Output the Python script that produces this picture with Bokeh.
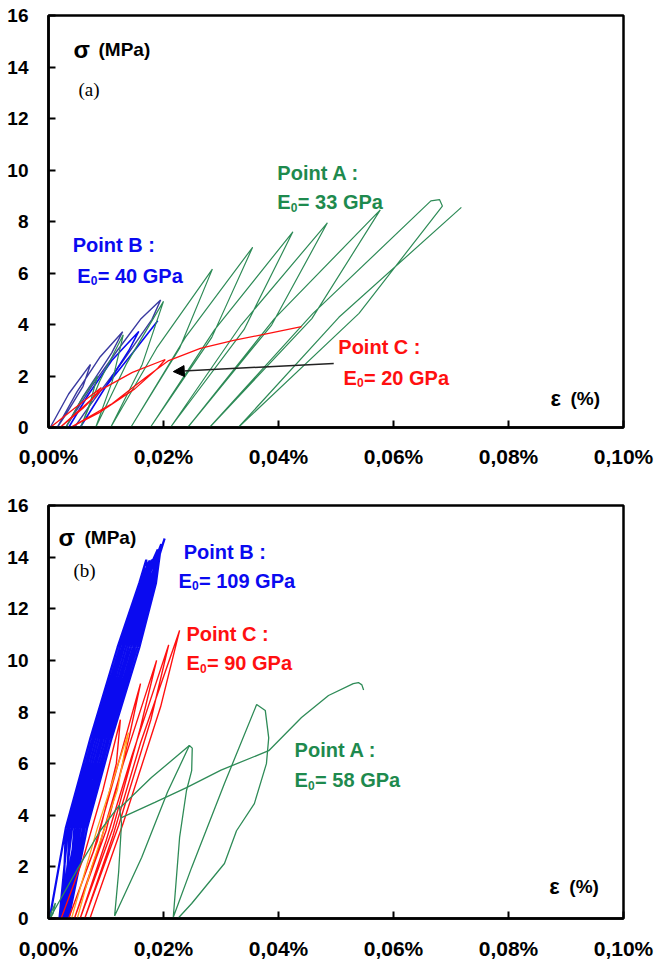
from bokeh.plotting import figure
from bokeh.models import Range1d, FixedTicker, CustomJSTickFormatter, Label, Arrow, NormalHead
from bokeh.layouts import column
from bokeh.embed import file_html
from bokeh.resources import INLINE

# ---------------- data (strain in %, stress in MPa) ----------------
x_ticks = [0.0, 0.02, 0.04, 0.06, 0.08, 0.10]
y_ticks = [0, 2, 4, 6, 8, 10, 12, 14, 16]

# ---- panel (a) ----
a_pointA_x = [0.0030, 0.0055, 0.0085, 0.0073, 0.0056, 0.0089, 0.0130, 0.0111, 0.0082, 0.0135,
              0.0200, 0.0163, 0.0108, 0.0188, 0.0285, 0.0228, 0.0143, 0.0238, 0.0355, 0.0284,
              0.0177, 0.0289, 0.0425, 0.0340, 0.0212, 0.0335, 0.0485, 0.0388, 0.0242, 0.0393,
              0.0577, 0.0458, 0.0280, 0.0460, 0.0665, 0.0680, 0.0685, 0.0540, 0.0330, 0.0505,
              0.0718]
a_pointA_y = [0.0, 1.0, 2.0, 1.0, 0.0, 1.8, 3.6, 1.8, 0.0, 2.45,
              4.9, 2.45, 0.0, 3.08, 6.15, 3.08, 0.0, 3.5, 7.0, 3.5,
              0.0, 3.8, 7.6, 3.8, 0.0, 3.98, 7.95, 3.98, 0.0, 4.23,
              8.45, 4.23, 0.0, 4.43, 8.80, 8.85, 8.6, 4.43, 0.0, 4.28,
              8.55]

a_pointB1_x = [0.0003, 0.0035, 0.0073, 0.0060, 0.0030, 0.0015, 0.0050, 0.0090, 0.0129, 0.0110,
               0.0060, 0.0030, 0.0075, 0.0120, 0.0160, 0.0195, 0.0180, 0.0130, 0.0070, 0.0045]
a_pointB1_y = [0.0, 1.3, 2.45, 1.6, 0.5, 0.0, 1.4, 2.75, 3.72, 2.9,
               1.2, 0.0, 1.6, 3.0, 4.2, 4.95, 4.2, 2.6, 0.8, 0.0]
a_pointB2_x = [0.0035, 0.0070, 0.0110, 0.0157, 0.0140, 0.0100, 0.0055, 0.0100, 0.0150, 0.0190]
a_pointB2_y = [0.0, 1.3, 2.6, 3.73, 3.0, 1.6, 0.0, 1.6, 3.0, 4.15]

a_pointC_x = [0.0003, 0.0047, 0.0092, 0.0075, 0.0035, 0.0020, 0.0060, 0.0094, 0.0146, 0.0203,
              0.0190, 0.0150, 0.0090, 0.0038, 0.0111, 0.0169, 0.0209, 0.0264, 0.0322, 0.0381,
              0.0440]
a_pointC_y = [0.0, 0.78, 1.55, 1.1, 0.3, 0.0, 0.75, 1.5, 2.14, 2.64,
              2.3, 1.5, 0.6, 0.0, 0.93, 1.94, 2.60, 3.07, 3.38, 3.65,
              3.92]

a_arrow_x = [0.0496, 0.0217]
a_arrow_y = [2.49, 2.17]

# ---- panel (b) ----
b_pointB_x = [0.0002, 0.0030, 0.0073, 0.0120, 0.0158, 0.0170, 0.0173, 0.0139, 0.0092, 0.0049, 0.0019,
              0.0034, 0.0077, 0.0124, 0.0161, 0.0180, 0.0175, 0.0143, 0.0095, 0.0052, 0.0022,
              0.0041, 0.0084, 0.0131, 0.0167, 0.0186, 0.0181, 0.0150, 0.0103, 0.0060, 0.0028,
              0.0037, 0.0080, 0.0128, 0.0164, 0.0190, 0.0184, 0.0154, 0.0106, 0.0063, 0.0032,
              0.0045, 0.0088, 0.0135, 0.0170, 0.0196, 0.0187, 0.0158, 0.0110, 0.0067, 0.0035,
              0.0052, 0.0095, 0.0143, 0.0175, 0.0202, 0.0178, 0.0147, 0.0099, 0.0056, 0.0025,
              0.0030, 0.0073, 0.0120, 0.0158, 0.0176, 0.0173, 0.0139, 0.0092, 0.0049, 0.0019]
b_pointB_y = [0.0, 3.5, 7.0, 10.5, 13.0, 13.9, 13.0, 10.5, 7.0, 3.5, 0.0,
              3.5, 7.0, 10.5, 13.0, 13.9, 13.0, 10.5, 7.0, 3.5, 0.0,
              3.5, 7.0, 10.5, 13.0, 14.1, 13.0, 10.5, 7.0, 3.5, 0.0,
              3.5, 7.0, 10.5, 13.0, 14.3, 13.0, 10.5, 7.0, 3.5, 0.0,
              3.5, 7.0, 10.5, 13.0, 14.5, 13.0, 10.5, 7.0, 3.5, 0.0,
              3.5, 7.0, 10.5, 13.0, 14.72, 13.0, 10.5, 7.0, 3.5, 0.0,
              3.5, 7.0, 10.5, 13.0, 13.87, 13.0, 10.5, 7.0, 3.5, 0.0]

b_pointC_x = [0.0022, 0.0060, 0.0095, 0.0125, 0.0118, 0.0085, 0.0035, 0.0078, 0.0115, 0.0160,
              0.0140, 0.0100, 0.0045, 0.0088, 0.0130, 0.0188, 0.0160, 0.0112, 0.0055, 0.0100,
              0.0145, 0.0209, 0.0178, 0.0122, 0.0063, 0.0112, 0.0160, 0.0228, 0.0195, 0.0130,
              0.0072]
b_pointC_y = [0.0, 2.3, 5.0, 7.7, 6.0, 3.0, 0.0, 2.6, 5.5, 9.1,
              7.0, 3.4, 0.0, 2.8, 6.0, 10.0, 7.4, 3.5, 0.0, 3.0,
              6.3, 10.6, 7.7, 3.6, 0.0, 3.2, 6.8, 11.16, 8.2, 3.7,
              0.0]
b_pointC2_x = [0.0040, 0.0085, 0.0139, 0.0120, 0.0075, 0.0050]
b_pointC2_y = [0.0, 3.5, 7.2, 5.0, 2.0, 0.0]

b_pointA_x = [0.0002, 0.0050, 0.0090, 0.0123, 0.0127, 0.0122, 0.0115, 0.0162, 0.0207, 0.0245,
              0.0250, 0.0249, 0.0240, 0.0228, 0.0217, 0.0249, 0.0306, 0.0362, 0.0377, 0.0383,
              0.0379, 0.0358, 0.0327, 0.0306, 0.0249, 0.0225]
b_pointA_y = [0.0, 1.9, 3.4, 4.38, 3.7, 1.8, 0.1, 2.36, 4.9, 6.7,
              6.6, 5.73, 4.96, 3.14, 0.05, 1.98, 5.23, 8.29, 8.06, 7.0,
              6.0, 4.45, 3.4, 2.13, 0.58, 0.0]
b_pointA2_x = [0.0125, 0.0179, 0.0245]
b_pointA2_y = [4.3, 5.46, 6.7]
b_pointA3_x = [0.0126, 0.0185, 0.0240, 0.0300, 0.0383, 0.0440, 0.0487, 0.0530, 0.0539, 0.0545, 0.0548]
b_pointA3_y = [3.9, 4.5, 5.07, 5.75, 6.5, 7.79, 8.64, 9.1, 9.14, 9.05, 8.85]
b_pointA4_x = [0.0000, 0.0012, 0.0008, 0.0003]
b_pointA4_y = [0.0, 0.6, 0.2, 0.0]

# ---------------- styling ----------------
GREEN_L = "#2E8B57"
GREEN_T = "#1E8A4E"
BLUE = "#0A0AF0"
NAVY = "#3A3AA0"
RED = "#FF1010"
ORANGE = "#FFA020"
FONT = "Liberation Sans"
W = 655


def make_fig(height, b_top, b_bottom, x_standoff):
    p = figure(width=W, height=height, x_range=Range1d(0, 0.1), y_range=Range1d(0, 16),
               output_backend="svg", toolbar_location=None,
               min_border_left=48, min_border_right=32,
               min_border_top=b_top, min_border_bottom=b_bottom)
    p.grid.visible = False
    p.outline_line_color = "black"
    p.outline_line_width = 2.5
    p.background_fill_color = "white"
    p.border_fill_color = "white"
    p.xaxis.ticker = FixedTicker(ticks=x_ticks)
    p.yaxis.ticker = FixedTicker(ticks=y_ticks)
    p.xaxis.formatter = CustomJSTickFormatter(code="return tick.toFixed(2).replace('.', ',') + '%';")
    for ax in (p.xaxis[0], p.yaxis[0]):
        ax.axis_line_width = 2.5
        ax.axis_line_color = "black"
        ax.major_tick_in = 7
        ax.major_tick_out = 0
        ax.major_tick_line_width = 2
        ax.minor_tick_line_color = None
        ax.major_label_text_font = FONT
        ax.major_label_text_font_style = "bold"
        ax.major_label_text_color = "black"
    p.xaxis.major_label_text_font_size = "21px"
    p.yaxis.major_label_text_font_size = "19px"
    p.xaxis.major_label_standoff = x_standoff
    p.yaxis.major_label_standoff = 20
    return p


def txt(p, x, y, s, color="black", size=20, bold=True, font=FONT, dx=0, dy=0):
    p.add_layout(Label(x=x, y=y, text=s, text_color=color, text_font_size=f"{size}px",
                       text_font=font, text_font_style="bold" if bold else "normal",
                       text_baseline="middle", text_align="left", x_offset=dx, y_offset=dy))


def e0(p, x, y, rest, color):
    txt(p, x, y, "E", color, 20)
    txt(p, x, y, "0", color, 12, dx=13.5, dy=-5)
    txt(p, x, y, rest, color, 20, dx=20.5)


# ---------------- panel (a) ----------------
p1 = make_fig(483, 15, 56, 17)
p1.line(a_pointB1_x, a_pointB1_y, line_color=NAVY, line_width=1.4)
p1.line(a_pointB2_x, a_pointB2_y, line_color=BLUE, line_width=1.6)
p1.line(a_pointA_x, a_pointA_y, line_color=GREEN_L, line_width=1.2)
p1.line(a_pointC_x, a_pointC_y, line_color=RED, line_width=1.3)
p1.add_layout(Arrow(end=NormalHead(size=11, fill_color="black", line_color="black"),
                    x_start=a_arrow_x[0], y_start=a_arrow_y[0],
                    x_end=a_arrow_x[1], y_end=a_arrow_y[1],
                    line_color="#222222", line_width=1.5))

txt(p1, 0.00435, 14.68, "σ", size=24)
txt(p1, 0.0087, 14.68, "(MPa)", size=19)
txt(p1, 0.0052, 13.13, "(a)", size=19, bold=False, font="Liberation Serif")
txt(p1, 0.0398, 9.90, "Point A :", GREEN_T)
e0(p1, 0.0398, 8.74, "= 33 GPa", GREEN_T)
txt(p1, 0.0042, 7.07, "Point B :", BLUE)
e0(p1, 0.0050, 5.90, "= 40 GPa", BLUE)
txt(p1, 0.0504, 3.11, "Point C :", RED)
e0(p1, 0.0513, 1.94, "= 20 GPa", RED)
txt(p1, 0.0873, 1.13, "ε", size=22)
txt(p1, 0.0873, 1.13, "(%)", size=19, dx=20)

# ---------------- panel (b) ----------------
p2 = make_fig(479, 22, 44, 18)
p2.line(b_pointB_x, b_pointB_y, line_color=BLUE, line_width=2.2)
p2.line(b_pointC_x, b_pointC_y, line_color=RED, line_width=1.4)
p2.line(b_pointC2_x, b_pointC2_y, line_color=ORANGE, line_width=1.3)
p2.line(b_pointA_x, b_pointA_y, line_color=GREEN_L, line_width=1.3)
p2.line(b_pointA2_x, b_pointA2_y, line_color=GREEN_L, line_width=1.3)
p2.line(b_pointA3_x, b_pointA3_y, line_color=GREEN_L, line_width=1.3)
p2.line(b_pointA4_x, b_pointA4_y, line_color=GREEN_L, line_width=1.3)

txt(p2, 0.00174, 14.76, "σ", size=24)
txt(p2, 0.00626, 14.76, "(MPa)", size=19)
txt(p2, 0.00435, 13.48, "(b)", size=19, bold=False, font="Liberation Serif")
txt(p2, 0.0235, 14.18, "Point B :", BLUE)
e0(p2, 0.0226, 13.09, "= 109 GPa", BLUE)
txt(p2, 0.0240, 11.04, "Point C :", RED)
e0(p2, 0.0240, 9.88, "= 90 GPa", RED)
txt(p2, 0.0428, 6.51, "Point A :", GREEN_T)
e0(p2, 0.0428, 5.35, "= 58 GPa", GREEN_T)
txt(p2, 0.0871, 1.24, "ε", size=22)
txt(p2, 0.0871, 1.24, "(%)", size=19, dx=20)

layout = column(p1, p2)
open("out.html", "w").write(file_html(layout, INLINE))
